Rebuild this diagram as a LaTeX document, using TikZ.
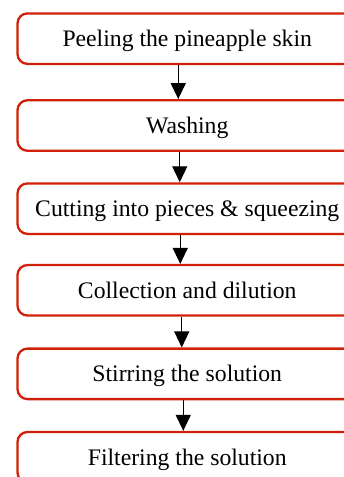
\documentclass[tikz,border=0pt]{standalone}
\usepackage{fontspec}
\setmainfont{Liberation Serif}
\usetikzlibrary{arrows.meta}
\definecolor{boxred}{RGB}{210,32,8}
\begin{document}
\begin{tikzpicture}[x=1pt, y=-1pt,
        stepbox/.style={draw=boxred, line width=2.3pt, rounded corners=10pt,
            minimum width=339.5pt, minimum height=50.5pt, inner sep=0pt,
            text height=15.7pt, text depth=0pt,
            font=\fontsize{23.7}{28}\selectfont},
        flow/.style={-{Triangle[width=15pt, length=16pt]}, line width=1.3pt}]
    \useasboundingbox (0, 0) rectangle (344, 477);
    \clip (0, 0) rectangle (344, 477);
        \node[stepbox, text depth=-8.4pt] (peel) at (187.25, 38.65){Peeling the pineapple skin};
        \node[stepbox] (wash) at (187.25, 125.5){Washing};
        \node[stepbox] (cut) at (187.25, 208.65){Cutting into pieces \& squeezing};
        \node[stepbox] (collect) at (187.25, 290.3){Collection and dilution};
        \node[stepbox] (stir) at (187.25, 373.85){Stirring the solution};
        \node[stepbox] (filter) at (187.25, 457.25){Filtering the solution};
    % arrows between the steps
        \draw[flow] ([xshift=-9pt]peel.south) to ([xshift=-9pt]wash.north);
        \draw[flow] ([xshift=-7.5pt]wash.south) to ([xshift=-7.5pt]cut.north);
        \draw[flow] ([xshift=-7pt]cut.south) to ([xshift=-7pt]collect.north);
        \draw[flow] ([xshift=-5.5pt]collect.south) to ([xshift=-5.5pt]stir.north);
        \draw[flow] ([xshift=-4pt]stir.south) to ([xshift=-4pt]filter.north);
\end{tikzpicture}
\end{document}
